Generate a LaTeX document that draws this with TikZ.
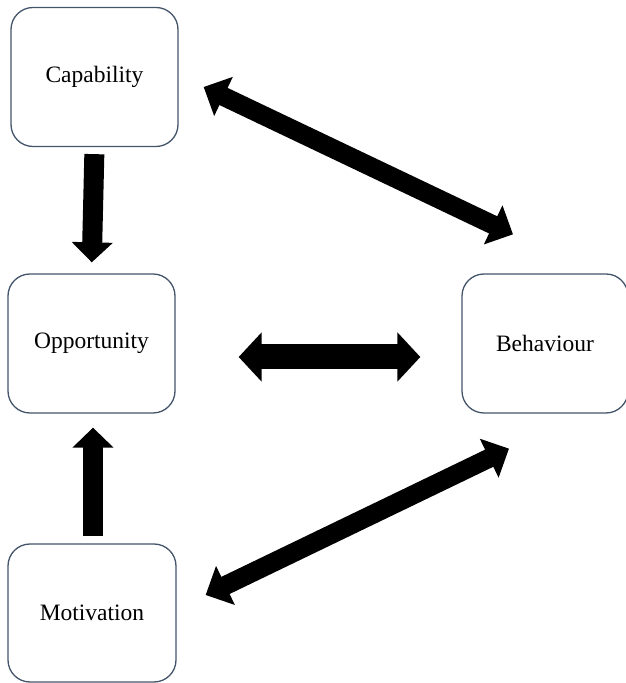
\documentclass[tikz,border=0pt]{standalone}
\usepackage{fontspec}
\setmainfont{Liberation Serif}
\usepackage{tikz}
\usetikzlibrary{arrows.meta}
\definecolor{boxline}{HTML}{44546A}
\tikzset{
	block/.style    = {draw=boxline, line width=1.3pt, rectangle, rounded corners=22pt,
		minimum width = 167pt, minimum height = 139pt,
		font=\fontsize{23.5}{27}\selectfont},
	bigarrow/.style = {line width=20pt, -{Triangle[length=20pt,width=40pt]}}, % straight
	widearrow/.style = {line width=25pt, {Triangle[length=23pt,width=48pt]}-{Triangle[length=23pt,width=48pt]}},
	diagarrow/.style = {line width=19pt, {Triangle[length=22pt,width=42pt]}-{Triangle[length=22pt,width=42pt]}}
}

\begin{document}
\begin{tikzpicture}[x=1pt, y=1pt]
\useasboundingbox (0,0) rectangle (625,683);
\draw
node at (94.5,606) [block] (cap) {Capability}
node at (91.5,339.5) [block] (opp) {Opportunity}
node at (92,70) [block,minimum width=168pt,minimum height=138pt] (mot) {Motivation}
node at (545,339.5) [block,minimum width=166pt] (beh) {Behaviour};

\draw[bigarrow,shorten <=7pt,shorten >=11pt](cap.south)--(opp.north);
\draw[bigarrow,shorten <=7pt,shorten >=14pt]([xshift=1pt]mot.north)--([xshift=1.5pt]opp.south);
\draw[widearrow]([shift={(63pt,-13.5pt)}]opp.east)--([shift={(-41pt,-13.5pt)}]beh.west);
\draw[diagarrow]([shift={(25pt,-10pt)}]cap.east)--([shift={(-32pt,39pt)}]beh.north);
\draw[diagarrow]([shift={(29pt,18pt)}]mot.east)--([shift={(-36pt,-35pt)}]beh.south);
\end{tikzpicture}
\end{document}
